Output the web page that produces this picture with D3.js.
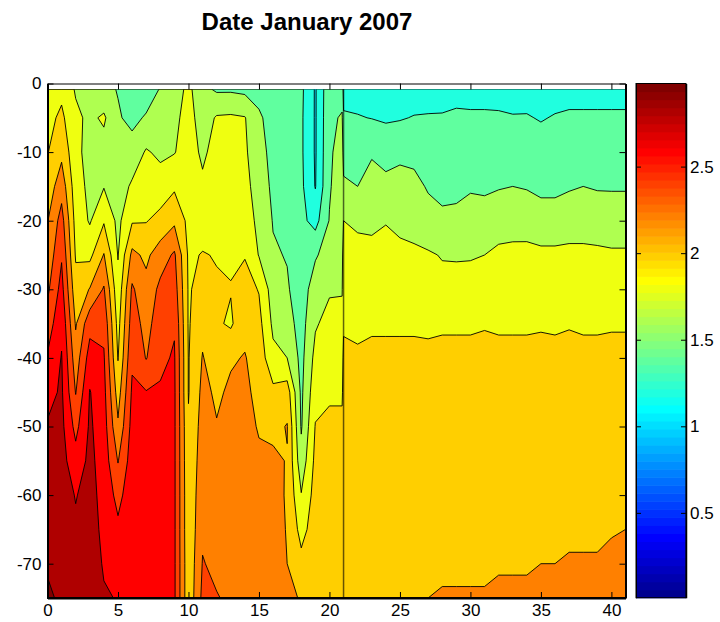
<!DOCTYPE html>
<html>
<head>
<meta charset="utf-8">
<script src="https://cdn.jsdelivr.net/npm/d3@7"></script>
<style>
  body { margin: 0; background: #fff; }
  text { font-family: "Liberation Sans", Arial, Helvetica, sans-serif; }
</style>
</head>
<body>
<svg id="chart" width="720" height="622"></svg>
<script>
// station positions along the section (x) and sampled depths (m)
var xs = [0, 1, 2, 3, 4, 5, 6, 7, 8, 9, 10, 11, 12, 13, 14, 15, 16, 17, 18, 19, 20, 20.9,
          21, 22, 23, 24, 25, 26, 27, 28, 29, 30, 31, 32, 33, 34, 35, 36, 37, 38, 39, 40, 41];
var depths = [0.8, 5, 10, 15, 20, 25, 30, 35, 40, 45, 50, 55, 60, 65, 70, 75];

// one row of readings per depth, one value per station
var z01 = [1.90,1.95,1.78,1.68,1.65,1.59,1.48,1.50,1.61,1.70,1.85,1.65,1.57,1.57,1.55,1.53,1.50,1.48,1.44,1.18,1.55,1.52,
           1.34,1.33,1.26,1.26,1.26,1.30,1.34,1.35,1.36,1.35,1.35,1.34,1.33,1.34,1.31,1.34,1.35,1.35,1.35,1.35,1.35];
var z05 = [1.94,2.04,1.84,1.76,1.83,1.62,1.55,1.62,1.68,1.75,1.88,1.70,1.82,1.83,1.81,1.63,1.52,1.50,1.43,1.18,1.56,1.62,
           1.42,1.41,1.395,1.37,1.385,1.41,1.41,1.41,1.42,1.42,1.42,1.42,1.41,1.41,1.39,1.41,1.42,1.42,1.42,1.42,1.42];
var z10 = [1.99,2.15,1.86,1.72,1.72,1.66,1.68,1.82,1.76,1.79,1.90,1.76,1.88,1.87,1.83,1.67,1.54,1.52,1.43,1.18,1.57,1.68,
           1.53,1.50,1.57,1.56,1.57,1.54,1.50,1.48,1.49,1.50,1.50,1.50,1.50,1.50,1.47,1.49,1.50,1.51,1.51,1.50,1.50];
var z15 = [2.08,2.32,1.89,1.75,1.79,1.70,1.83,1.91,1.89,1.97,1.93,1.84,1.92,1.90,1.86,1.71,1.56,1.54,1.44,1.19,1.58,1.72,
           1.63,1.60,1.71,1.63,1.65,1.66,1.58,1.56,1.56,1.58,1.57,1.59,1.60,1.59,1.57,1.57,1.58,1.60,1.59,1.58,1.58];
var z20 = [2.19,2.48,1.93,1.78,1.98,1.75,1.98,1.99,2.06,2.16,1.95,1.92,1.95,1.93,1.90,1.75,1.59,1.56,1.45,1.33,1.61,1.75,
           1.80,1.74,1.77,1.79,1.75,1.74,1.68,1.63,1.64,1.68,1.68,1.69,1.72,1.69,1.66,1.66,1.72,1.72,1.67,1.72,1.72];
var z25 = [2.26,2.58,1.98,1.95,2.21,1.79,2.25,2.16,2.30,2.43,1.97,2.01,1.99,1.97,1.99,1.79,1.62,1.59,1.47,1.58,1.68,1.77,
           1.86,1.91,1.84,1.87,1.85,1.83,1.82,1.79,1.79,1.79,1.80,1.85,1.85,1.87,1.85,1.85,1.84,1.84,1.85,1.82,1.82];
var z30 = [2.36,2.67,2.07,2.21,2.42,1.86,2.43,2.26,2.45,2.50,1.98,2.07,2.02,2.01,2.07,1.99,1.70,1.62,1.50,1.70,1.78,1.79,
           1.92,1.94,1.91,1.92,1.91,1.90,1.88,1.85,1.84,1.85,1.89,1.91,1.91,1.92,1.91,1.91,1.91,1.90,1.91,1.89,1.89];
var z35 = [2.49,2.76,2.18,2.53,2.55,1.93,2.50,2.33,2.51,2.58,1.98,2.15,2.03,1.97,2.15,2.06,1.76,1.68,1.52,1.78,1.86,1.84,
           1.97,1.97,1.97,1.97,1.97,1.97,1.96,1.96,1.96,1.96,1.98,1.97,1.97,1.97,1.98,1.97,1.98,1.97,1.97,1.98,1.98];
var z40 = [2.62,2.81,2.29,2.69,2.62,1.99,2.57,2.39,2.56,2.62,1.99,2.21,2.10,2.18,2.21,2.12,1.85,1.80,1.54,1.86,1.92,1.92,
           2.05,2.02,2.05,2.05,2.05,2.05,2.05,2.08,2.08,2.08,2.08,2.06,2.06,2.06,2.06,2.06,2.09,2.06,2.06,2.06,2.06];
var z45 = [2.73,2.83,2.39,2.81,2.66,2.11,2.63,2.61,2.62,2.63,1.99,2.25,2.17,2.23,2.23,2.16,2.05,2.10,1.56,1.93,1.98,1.98,
           2.06,2.04,2.06,2.06,2.07,2.07,2.07,2.09,2.09,2.09,2.09,2.08,2.08,2.08,2.08,2.08,2.11,2.08,2.08,2.08,2.09];
var z50 = [2.82,2.85,2.54,2.83,2.69,2.23,2.67,2.66,2.65,2.63,2.02,2.28,2.21,2.26,2.24,2.19,2.15,2.21,1.58,2.01,2.03,2.03,
           2.07,2.05,2.07,2.08,2.08,2.09,2.09,2.11,2.11,2.11,2.11,2.10,2.10,2.10,2.10,2.11,2.13,2.11,2.11,2.11,2.12];
var z55 = [2.86,2.87,2.68,2.85,2.71,2.39,2.70,2.68,2.66,2.63,2.03,2.31,2.25,2.29,2.25,2.22,2.24,2.19,1.67,2.05,2.06,2.06,
           2.08,2.07,2.09,2.09,2.10,2.11,2.11,2.13,2.13,2.13,2.13,2.12,2.12,2.12,2.13,2.13,2.14,2.13,2.13,2.14,2.14];
var z60 = [2.90,2.89,2.79,2.87,2.73,2.54,2.72,2.69,2.67,2.63,2.04,2.34,2.29,2.31,2.26,2.23,2.27,2.18,1.81,2.08,2.08,2.08,
           2.09,2.08,2.10,2.11,2.12,2.13,2.13,2.15,2.15,2.15,2.15,2.14,2.14,2.14,2.15,2.15,2.16,2.16,2.16,2.16,2.17];
var z65 = [2.94,2.91,2.83,2.89,2.75,2.64,2.73,2.70,2.67,2.63,2.04,2.37,2.32,2.33,2.27,2.24,2.27,2.19,1.93,2.10,2.09,2.09,
           2.10,2.10,2.11,2.12,2.13,2.15,2.16,2.17,2.17,2.17,2.17,2.17,2.17,2.17,2.18,2.18,2.18,2.18,2.18,2.19,2.20];
var z70 = [2.98,2.94,2.86,2.91,2.78,2.71,2.75,2.71,2.68,2.63,2.05,2.41,2.36,2.35,2.28,2.25,2.26,2.20,2.06,2.12,2.10,2.10,
           2.11,2.12,2.13,2.14,2.15,2.17,2.18,2.18,2.18,2.18,2.18,2.19,2.19,2.19,2.20,2.20,2.21,2.21,2.21,2.23,2.24];
var z75 = [3.03,2.97,2.90,2.93,2.82,2.79,2.76,2.72,2.68,2.63,2.05,2.45,2.41,2.37,2.29,2.26,2.25,2.23,2.19,2.14,2.11,2.11,
           2.12,2.13,2.14,2.15,2.17,2.19,2.20,2.21,2.21,2.21,2.21,2.22,2.22,2.22,2.23,2.23,2.24,2.24,2.24,2.26,2.27];

var levels = [1.0, 1.2, 1.4, 1.6, 1.8, 2.0, 2.2, 2.4, 2.6, 2.8, 3.0];
var xTicks = [0, 5, 10, 15, 20, 25, 30, 35, 40];
var yTicks = [-70, -60, -50, -40, -30, -20, -10, 0];
var cbTicks = [0.5, 1, 1.5, 2, 2.5];
var cRange = [0.01, 2.98];
var title = 'Date January 2007';

var svg = d3.select('#chart');
svg.append('rect').attr('width', 720).attr('height', 622).attr('fill', '#fff');

var x = d3.scaleLinear().domain([0, 41]).range([47.5, 625.5]),
    y = d3.scaleLinear().domain([-75, 0]).range([598, 83.5]);

var grid = [z01, z05, z10, z15, z20, z25, z30, z35, z40, z45, z50, z55, z60, z65, z70, z75];
var nx = xs.length, ny = depths.length;
grid.forEach(function(r, i) { if (r.length !== nx) throw new Error('row ' + i + ' has ' + r.length); });
var values = [].concat.apply([], grid);

// MATLAB style jet(64)
function jet(k) {
    var r = k <= 24 ? 0 : k <= 40 ? (k - 24) / 16 : k <= 56 ? 1 : 1 - (k - 56) / 16;
    var g = k <= 8 ? 0 : k <= 24 ? (k - 8) / 16 : k <= 40 ? 1 : k <= 56 ? 1 - (k - 40) / 16 : 0;
    var b = k <= 8 ? 0.5 + k / 16 : k <= 24 ? 1 : k <= 40 ? 1 - (k - 24) / 16 : 0;
    return d3.rgb(r * 255, g * 255, b * 255).formatHex();
}
function colorOf(v) {
    var k = Math.floor((v - cRange[0]) / (cRange[1] - cRange[0]) * 64) + 1;
    return jet(Math.max(1, Math.min(64, k)));
}

// contour grid coords -> data coords (non uniform spacing)
function along(arr, c) {
    var i = Math.max(0, Math.min(arr.length - 1, c - 0.5)),
        i0 = Math.min(Math.floor(i), arr.length - 2);
    return arr[i0] + (i - i0) * (arr[i0 + 1] - arr[i0]);
}
var proj = d3.geoTransform({
    point: function(cx, cy) { this.stream.point(x(along(xs, cx)), y(-along(depths, cy))); }
});
var path = d3.geoPath(proj);

var bands = d3.contours().size([nx, ny]).thresholds(levels)(values);

var plot = svg.append('g');
plot.selectAll('path.fill').data(bands).join('path')
    .attr('class', 'fill')
    .attr('d', path)
    .attr('fill', function(d) { return colorOf(d.value); })
    .attr('fill-rule', 'evenodd')
    .attr('stroke', 'none');

svg.append('clipPath').attr('id', 'inner').append('rect')
    .attr('x', 40).attr('y', y(-depths[0]) + 0.6)
    .attr('width', 600).attr('height', 520);

plot.append('g').attr('clip-path', 'url(#inner)')
    .selectAll('path').data(bands).join('path')
    .attr('d', path)
    .attr('fill', 'none')
    .attr('stroke', '#000')
    .attr('stroke-width', 0.9)
    .attr('stroke-linejoin', 'round');

// seam between the two stations near x = 21
plot.append('line')
    .attr('x1', x(21)).attr('x2', x(21))
    .attr('y1', y(-depths[0])).attr('y2', y(-75))
    .attr('stroke', '#000').attr('stroke-opacity', 0.6).attr('stroke-width', 1.5);

// axes, ticks pointing inward
function fmt(d) { return String(d); }
function styleAxis(g, w) {
    g.attr('font-size', 17).attr('font-family', '"Liberation Sans", Arial, sans-serif');
    g.select('.domain').attr('stroke', '#000').attr('stroke-width', w);
    g.selectAll('.tick line').attr('stroke', '#000');
    g.selectAll('.tick text').attr('fill', '#000');
}

svg.append('g').attr('transform', 'translate(0,' + y(0) + ')')
    .call(d3.axisTop(x).tickValues(xTicks).tickSizeInner(-6).tickSizeOuter(0).tickFormat(''))
    .call(styleAxis, 1);
svg.append('g').attr('transform', 'translate(' + x(41) + ',0)')
    .call(d3.axisRight(y).tickValues(yTicks).tickSizeInner(-6).tickSizeOuter(0).tickFormat(''))
    .call(styleAxis, 2);
svg.append('g').attr('transform', 'translate(0,' + y(-75) + ')')
    .call(d3.axisBottom(x).tickValues(xTicks).tickSizeInner(-6).tickSizeOuter(0).tickPadding(6).tickFormat(fmt))
    .call(styleAxis, 2);
svg.append('g').attr('transform', 'translate(' + x(0) + ',0)')
    .call(d3.axisLeft(y).tickValues(yTicks).tickSizeInner(-6).tickSizeOuter(0).tickPadding(6).tickFormat(fmt))
    .call(styleAxis, 2);

// colour bar
var cbX = 636, cbW = 50;
var cb = d3.scaleLinear().domain(cRange).range([597.7, 83.5]);
var step = (cRange[1] - cRange[0]) / 64;
svg.append('g').selectAll('rect').data(d3.range(1, 65)).join('rect')
    .attr('x', cbX).attr('width', cbW)
    .attr('y', function(k) { return cb(cRange[0] + k * step); })
    .attr('height', function(k) { return cb(cRange[0] + (k - 1) * step) - cb(cRange[0] + k * step) + 0.6; })
    .attr('fill', jet);
svg.append('rect').attr('x', cbX).attr('y', 83.5).attr('width', cbW).attr('height', 597.7 - 83.5)
    .attr('fill', 'none').attr('stroke', '#000').attr('stroke-width', 1);
svg.append('g').attr('transform', 'translate(' + (cbX + cbW) + ',0)')
    .call(d3.axisRight(cb).tickValues(cbTicks).tickSizeInner(-5).tickSizeOuter(0).tickPadding(4).tickFormat(fmt))
    .call(styleAxis, 1.5);
svg.append('g').attr('transform', 'translate(' + cbX + ',0)')
    .call(d3.axisLeft(cb).tickValues(cbTicks).tickSizeInner(-5).tickSizeOuter(0).tickFormat(''))
    .call(styleAxis, 1);

svg.append('text')
    .attr('x', 307).attr('y', 29.5)
    .attr('text-anchor', 'middle')
    .attr('font-size', 24).attr('font-weight', 'bold')
    .text(title);
</script>
</body>
</html>
